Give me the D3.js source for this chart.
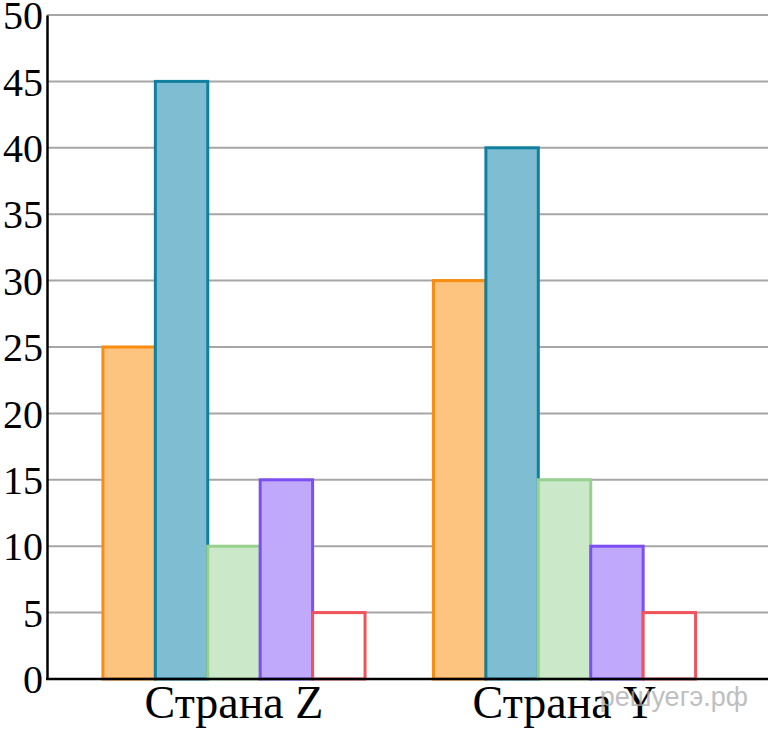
<!DOCTYPE html>
<meta charset="utf-8">
<style>
body { margin: 0; background: #fff; }
.grid line { stroke: #a6a6a6; stroke-width: 2px; }
</style>
<body>
<script src="https://d3js.org/d3.v7.min.js"></script>
<script>
var width = 768,
    height = 729;

// data
var countries = ["Страна Z", "Страна Y"];
var seriesKeys = ["a", "b", "c", "d", "e"];
var valuesZ = [25, 45, 10, 15, 5];
var valuesY = [30, 40, 15, 10, 5];
var yTicks = [0, 5, 10, 15, 20, 25, 30, 35, 40, 45, 50];
var fills = ["#fdc47f", "#7fbdd3", "#cbe8c9", "#c0a8fa", "#ffffff"];
var strokes = ["#f98c12", "#11809f", "#98d08f", "#7d4ff2", "#f0535a"];

var rows = [valuesZ, valuesY];

var svg = d3.select("body").append("svg")
    .attr("width", width)
    .attr("height", height);

var y = d3.scaleLinear()
    .domain([0, 50])
    .range([679, 15]);

var x0 = d3.scaleBand()
    .domain(countries)
    .range([34.5, 764])
    .padding(0.207);

var x1 = d3.scaleBand()
    .domain(seriesKeys)
    .range([0, x0.bandwidth()]);

// horizontal grid lines
svg.append("g")
    .attr("class", "grid")
    .selectAll("line")
    .data(yTicks.filter(function(d) { return d > 0; }))
    .enter().append("line")
      .attr("x1", 47)
      .attr("x2", width)
      .attr("y1", function(d) { return y(d); })
      .attr("y2", function(d) { return y(d); });

// bars
var groups = svg.append("g").selectAll("g")
    .data(countries)
    .enter().append("g")
      .attr("transform", function(d) { return "translate(" + x0(d) + ",0)"; });

groups.selectAll("rect")
    .data(function(d, i) { return rows[i].map(function(v, j) { return {key: seriesKeys[j], value: v, j: j}; }); })
    .enter().append("rect")
      .attr("x", function(d) { return x1(d.key); })
      .attr("width", x1.bandwidth())
      .attr("y", function(d) { return y(d.value); })
      .attr("height", function(d) { return y(0) - y(d.value); })
      .style("fill", function(d) { return fills[d.j]; })
      .style("stroke", function(d) { return strokes[d.j]; })
      .style("stroke-width", 3);

// y axis
var yAxis = svg.append("g")
    .attr("transform", "translate(47,0)")
    .call(d3.axisLeft(y).tickValues(yTicks).tickSize(0).tickPadding(4));
yAxis.select(".domain").attr("stroke", "#000").attr("stroke-width", 2.5);
yAxis.selectAll(".tick text")
    .style("font-family", "'Liberation Serif', 'Times New Roman', serif")
    .style("font-size", "40px")
    .attr("dy", "0.34em")
    .attr("fill", "#000");

// x axis
var xAxis = svg.append("g")
    .attr("transform", "translate(0,679)")
    .call(d3.axisBottom(x0).tickSize(0).tickPadding(6));
xAxis.select(".domain").attr("d", "M46,0H" + width).attr("stroke", "#000").attr("stroke-width", 2.5);
xAxis.selectAll(".tick text")
    .style("font-family", "'Liberation Serif', 'Times New Roman', serif")
    .style("font-size", "46px")
    .attr("dy", "0.71em")
    .attr("fill", "#000");

// watermark
svg.append("text")
    .attr("x", 748)
    .attr("y", 706)
    .attr("text-anchor", "end")
    .style("font-family", "'Liberation Sans', sans-serif")
    .style("font-size", "27px")
    .style("fill", "#aaa")
    .style("opacity", 0.75)
    .text("решуегэ.рф");
</script>
</body>
</html>
